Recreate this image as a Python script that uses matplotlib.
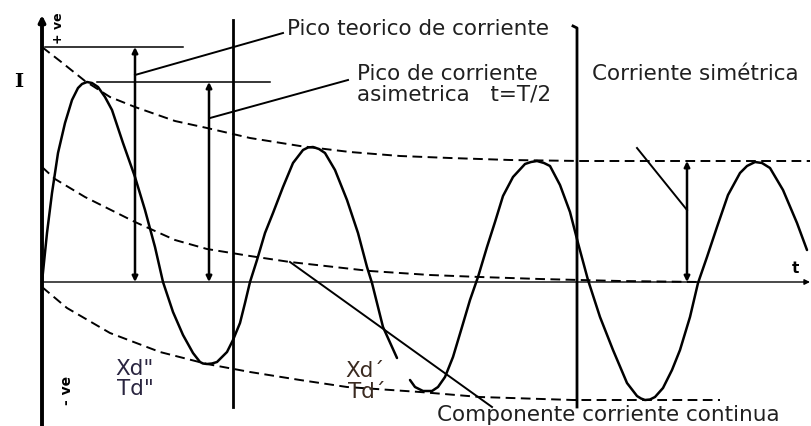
import matplotlib
matplotlib.use("Agg")
import matplotlib.pyplot as plt

# ---------------- data (arbitrary units: t = time, i = current) ----------------
# asymmetric short-circuit current, first part (up to the break near Xd')
wave1_t = [0, 5, 10, 16, 23, 30, 36, 40, 45, 50, 56, 63, 70, 81, 93, 103, 113, 121,
           131, 141, 151, 158, 161, 165, 170, 175, 185, 191, 198, 203, 208, 215,
           223, 231, 241, 251, 261, 266, 271, 277, 283, 293, 305, 316, 325, 330,
           341, 355]
wave1_i = [0, 49, 89, 129, 159, 182, 194, 198, 200, 199, 195, 185, 172, 139, 105, 72,
           35, 0, -30, -53, -71, -80, -81.5, -82, -81.5, -80, -70, -58, -41, -21, 0,
           22, 49, 69, 95, 119, 132, 134.5, 135, 133, 129, 112, 82, 49, 15, -1, -45,
           -76]
# second part of the waveform
wave2_t = [368, 373, 381, 390, 396, 403, 411, 420, 428, 436, 445, 453, 461, 471,
           483, 489, 495, 502, 508, 518, 528, 536, 546, 558, 571, 585, 595, 599,
           603, 608, 613, 621, 630, 638, 648, 656, 665, 675, 686, 698, 705, 713,
           720, 728, 741, 755, 765]
wave2_i = [-98, -105, -109, -109, -105, -95, -75, -45, -18, 5, 35, 60, 86, 105,
           118, 120, 121, 119, 116, 97, 70, 39, 2, -35, -68, -101, -114, -116.5,
           -118, -117.5, -115, -106, -88, -68, -35, -1, 25, 55, 87, 109, 116, 120,
           119, 114, 92, 59, 32]

# upper envelope (theoretical peak decay)
upper_t = [0, 18, 43, 68, 93, 133, 165, 208, 258, 308, 358, 408, 468, 538, 768]
upper_i = [235, 221, 201, 185, 175, 161, 154, 144, 136, 130, 126, 124, 122, 121, 121]
# DC component
dc_t = [0, 13, 43, 93, 133, 165, 208, 248, 328, 388, 438, 498, 538, 578, 658]
dc_i = [115, 103, 85, 60, 42, 33, 26, 20, 11, 7, 5, 3, 2, 1, 0]
# lower envelope
lower_t = [0, 25, 68, 118, 165, 208, 258, 305, 378, 438, 531, 678]
lower_i = [-5, -26, -51, -70, -82, -90, -98, -105, -110, -115, -118, -118]

# reference levels
theo_peak = 235          # theoretical peak
asym_peak = 200          # asymmetric peak (t = T/2)
sym_peak = 121           # symmetric peak
theo_t, asym_t, sym_t = 93, 167, 645
theo_level_t = [3, 141]
asym_level_t = [55, 228]
# transition boundaries (Xd'' -> Xd' -> Xd)
bound1_t = [191, 191]
bound1_i = [262, -125]
bound2_t = [531, 535, 535]
bound2_i = [256, 254, -125]
# leader lines
lead_theo = ([93, 241], [207, 249])
lead_asym = ([168, 306], [164, 202])
lead_dc = ([248, 450], [20, -125])
lead_sym = ([595, 645], [134, 72])

# ------------------------------ figure ------------------------------
fig = plt.figure(figsize=(8.12, 4.26), dpi=100)
ax = fig.add_axes([0, 0, 1, 1])
ax.set_xlim(-42, 770)
ax.set_ylim(-144, 282)
ax.axis("off")

K = "black"
dash = (0, (5, 2.8))

# axes
ax.annotate("", xy=(0, 267), xytext=(0, -146),
            arrowprops=dict(arrowstyle="-|>", lw=2.8, color=K, mutation_scale=9,
                            shrinkA=0, shrinkB=0))
ax.annotate("", xy=(768, 0), xytext=(0, 0),
            arrowprops=dict(arrowstyle="-|>", lw=1.0, color=K, mutation_scale=8,
                            shrinkA=0, shrinkB=0))

# envelopes
ax.plot(upper_t, upper_i, color=K, lw=1.4, ls=dash)
ax.plot(dc_t, dc_i, color=K, lw=1.4, ls=dash)
ax.plot(lower_t, lower_i, color=K, lw=1.4, ls=dash)

# waveform
ax.plot(wave1_t, wave1_i, color=K, lw=1.8, solid_capstyle="round", solid_joinstyle="round")
ax.plot(wave2_t, wave2_i, color=K, lw=1.8, solid_capstyle="round", solid_joinstyle="round")

# reference horizontal levels
ax.plot(theo_level_t, [theo_peak, theo_peak], color=K, lw=1.1)
ax.plot(asym_level_t, [asym_peak, asym_peak], color=K, lw=1.1)

# double arrows
for tt, top in [(theo_t, theo_peak), (asym_t, asym_peak), (sym_t, sym_peak)]:
    ax.annotate("", xy=(tt, top), xytext=(tt, 0),
                arrowprops=dict(arrowstyle="<|-|>", lw=1.8, color=K, mutation_scale=8,
                                shrinkA=0, shrinkB=0))

# boundaries
ax.plot(bound1_t, bound1_i, color=K, lw=2.0)
ax.plot(bound2_t, bound2_i, color=K, lw=2.0)

# leader lines
for lx, ly in [lead_theo, lead_asym, lead_dc, lead_sym]:
    ax.plot(lx, ly, color=K, lw=1.4)

# texts
TC = "#202020"
fs = 15.5
ax.text(245, 247, "Pico teorico de corriente", fontsize=fs, color=TC, va="baseline")
ax.text(315, 202, "Pico de corriente", fontsize=fs, color=TC, va="baseline")
ax.text(315, 182, "asimetrica   t=T/2", fontsize=fs, color=TC, va="baseline")
ax.text(550, 202, "Corriente simétrica", fontsize=fs, color=TC, va="baseline")
ax.text(73, -93, 'Xd"', fontsize=fs, color="#2a2540", va="baseline")
ax.text(75, -113, 'Td"', fontsize=fs, color="#2a2540", va="baseline")
ax.text(303, -95, "Xd´", fontsize=fs, color="#3a2a20", va="baseline")
ax.text(306, -116, "Td´", fontsize=fs, color="#3a2a20", va="baseline")
ax.text(395, -139, "Componente corriente continua", fontsize=fs, color=TC, va="baseline")
ax.text(-23, 200, "I", fontsize=14, fontweight="bold", family="DejaVu Serif",
        ha="center", va="center", color=K)
ax.text(17, 254, "+ ve", fontsize=9, fontweight="bold", rotation=90,
        ha="center", va="center", color=K)
ax.text(25, -108, "- ve", fontsize=10, fontweight="bold", rotation=90,
        ha="center", va="center", color=K)
ax.text(753, 9, "t", fontsize=11, fontweight="bold", ha="center", va="baseline", color=K)

fig.savefig("out.png", dpi=100)
